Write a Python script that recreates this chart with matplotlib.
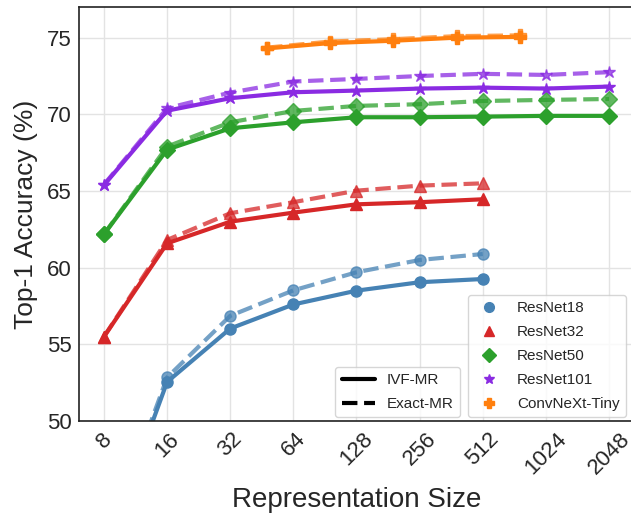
import matplotlib
matplotlib.use("Agg")
from matplotlib import pyplot as plt
from matplotlib.lines import Line2D
import seaborn as sns

dims = [8, 16, 32, 64, 128, 256, 512, 1024, 2048]
dims_cnx = [48, 96, 192, 384, 768]

r18_ivf = [41.3, 52.55, 56.03, 57.6, 58.5, 59.05, 59.26]
r18_exact = [41.6, 52.84, 56.86, 58.52, 59.7, 60.5, 60.89]
r32_ivf = [55.5, 61.59, 63.0, 63.59, 64.13, 64.27, 64.46]
r32_exact = [55.5, 61.81, 63.55, 64.27, 65.02, 65.35, 65.5]
r50_ivf = [62.18, 67.7, 69.09, 69.48, 69.81, 69.81, 69.85, 69.9, 69.9]
r50_exact = [62.18, 67.9, 69.48, 70.22, 70.55, 70.66, 70.87, 70.94, 71.0]
r101_ivf = [65.39, 70.24, 71.05, 71.44, 71.55, 71.68, 71.74, 71.68, 71.81]
r101_exact = [65.42, 70.4, 71.42, 72.14, 72.31, 72.5, 72.64, 72.57, 72.75]
cnx_ivf = [74.3, 74.65, 74.8, 75.0, 75.05]
cnx_exact = [74.35, 74.75, 74.9, 75.1, 75.15]

models = ['ResNet18', 'ResNet32', 'ResNet50', 'ResNet101', 'ConvNeXt-Tiny']
colors = ['#4682b4', '#d62728', '#2ca02c', '#8a2be2', '#ff7f0e']
markers = ['o', '^', 'D', '*', 'P']
msizes = [8, 8, 8, 9, 9]

sns.set_style("whitegrid")
plt.rcParams['font.family'] = ['Liberation Sans', 'DejaVu Sans']

fig = plt.figure(figsize=(6.31, 5.14), dpi=100)
ax = fig.add_axes([79 / 631, 93 / 514, 555 / 631, 414 / 514])

series = [
    (dims[:7], r18_ivf, r18_exact),
    (dims[:7], r32_ivf, r32_exact),
    (dims, r50_ivf, r50_exact),
    (dims, r101_ivf, r101_exact),
    (dims_cnx, cnx_ivf, cnx_exact),
]

for (x, ivf, exact), c, m, ms in zip(series, colors, markers, msizes):
    ax.plot(x, exact, color=c, marker=m, ms=ms, lw=3, ls='--', alpha=0.75)
    ax.plot(x, ivf, color=c, marker=m, ms=ms, lw=3, ls='-')

ax.set_xscale('log', base=2)
ax.set_xlim(2 ** 2.604, 2 ** 11.396)
ax.set_ylim(50, 77)
ax.set_xticks(dims)
ax.set_xticklabels([str(d) for d in dims], rotation=45, fontsize=16)
ax.minorticks_off()
ax.set_yticks([50, 55, 60, 65, 70, 75])
ax.tick_params(axis='y', labelsize=16, pad=2)
ax.tick_params(axis='x', pad=2)
ax.set_xlabel('Representation Size', fontsize=20, labelpad=6)
ax.set_ylabel('Top-1 Accuracy (%)', fontsize=19, labelpad=6)

for s in ax.spines.values():
    s.set_color('#222222')
    s.set_linewidth(1.2)
ax.grid(color='#e3e3e3', lw=1)

style_h = [Line2D([], [], color='black', lw=3, ls='-'),
           Line2D([], [], color='black', lw=3, ls='--')]
leg1 = ax.legend(style_h, ['IVF-MR', 'Exact-MR'], loc='lower left',
                 bbox_to_anchor=(0.462, 0.009), borderaxespad=0,
                 fontsize=11, handlelength=2.2, handletextpad=0.75,
                 labelspacing=0.65, frameon=True)
ax.add_artist(leg1)

model_h = [Line2D([], [], color=c, marker=m, ls='none', ms=7)
           for c, m in zip(colors, markers)]
ax.legend(model_h, models, loc='lower right', bbox_to_anchor=(0.985, 0.009),
          borderaxespad=0, fontsize=11, labelspacing=0.65, frameon=True)

fig.savefig('out.png', dpi=100)
